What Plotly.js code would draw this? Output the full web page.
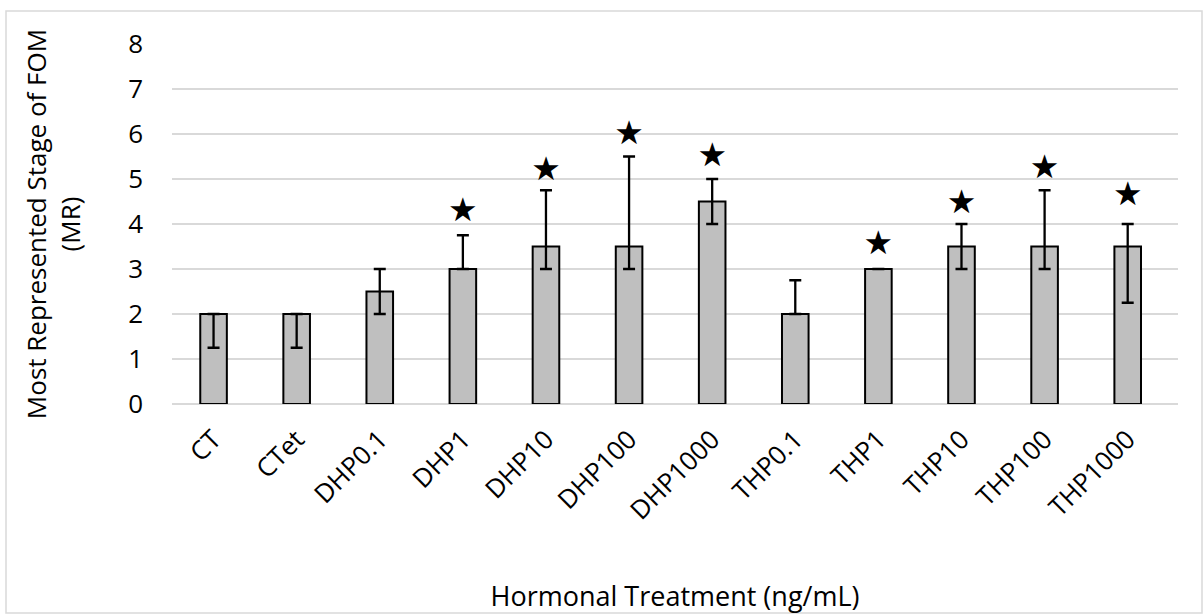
<!DOCTYPE html>
<html>
<head>
<meta charset="utf-8">
<script src="https://cdn.plot.ly/plotly-3.0.1.min.js"></script>
<style>
html,body{margin:0;padding:0;background:#fff;}
#chart{width:1203px;height:614px;}
</style>
</head>
<body>
<div id="chart"></div>
<script>
// Data
const categories = ["CT","CTet","DHP0.1","DHP1","DHP10","DHP100","DHP1000","THP0.1","THP1","THP10","THP100","THP1000"];
const mrValues   = [2, 2, 2.5, 3, 3.5, 3.5, 4.5, 2, 3, 3.5, 3.5, 3.5];
const errPlus    = [0, 0, 0.5, 0.75, 1.25, 2, 0.5, 0.75, 0, 0.5, 1.25, 0.5];
const errMinus   = [0.75, 0.75, 0.5, 0, 0.5, 0.5, 0.5, 0, 0, 0.5, 0.5, 1.25];
// significance stars (category, y position)
const starCats   = ["DHP1","DHP10","DHP100","DHP1000","THP1","THP10","THP100","THP1000"];
const starY      = [4.26, 5.17, 5.96, 5.48, 3.52, 4.42, 5.21, 4.61];
const yTickVals  = [0,1,2,3,4,5,6,7,8];

const FONT = "Open Sans, sans-serif";
const FS = 26;

const bars = {
  type: "bar",
  x: categories,
  y: mrValues,
  marker: {color: "#bfbfbf", line: {color: "#000000", width: 2}},
  error_y: {
    type: "data", symmetric: false,
    array: errPlus, arrayminus: errMinus,
    color: "#000000", thickness: 2.3, width: 6
  },
  hoverinfo: "x+y",
  showlegend: false
};

const stars = {
  type: "scatter",
  mode: "text",
  x: starCats,
  y: starY,
  text: starCats.map(() => "★"),
  textposition: "middle center",
  textfont: {family: "DejaVu Sans", size: 33, color: "#000000"},
  hoverinfo: "skip",
  showlegend: false
};

// plot area in pixels
const L = 172, R = 25, T = 44, B = 210, W = 1203, H = 614;
const pw = W - L - R, ph = H - T - B;
const px = v => (v - L) / pw;
const py = v => 1 - (v - T) / ph;

const layout = {
  width: W, height: H,
  margin: {l: L, r: R, t: T, b: B, pad: 0},
  paper_bgcolor: "#ffffff",
  plot_bgcolor: "#ffffff",
  bargap: 0.68,
  font: {family: FONT, color: "#000000", size: FS},
  xaxis: {
    type: "category",
    tickangle: -45,
    tickfont: {family: FONT, size: FS, color: "#000000"},
    ticklabelstandoff: 14,
    showgrid: false,
    showline: false,
    ticks: "",
    title: {text: "Hormonal Treatment (ng/mL)", font: {family: FONT, size: 27, color: "#000000"}, standoff: 61},
    automargin: false
  },
  yaxis: {
    range: [0, 8],
    tickvals: yTickVals,
    ticktext: yTickVals.map(String),
    tickfont: {family: FONT, size: FS, color: "#000000"},
    ticklabelstandoff: 28,
    showgrid: true,
    gridcolor: "#d9d9d9",
    gridwidth: 1.5,
    zeroline: true,
    zerolinecolor: "#d9d9d9",
    zerolinewidth: 1.5,
    showline: false,
    ticks: "",
    ticklen: 0,
    title: {text: "Most Represented Stage of FOM<br>(MR)", font: {family: FONT, size: FS, color: "#000000"}, standoff: 40},
    automargin: false
  },
  shapes: [{
    type: "rect", xref: "paper", yref: "paper", layer: "below",
    x0: px(6), x1: px(1202), y0: py(11), y1: py(613),
    line: {color: "#d9d9d9", width: 1.5}, fillcolor: "rgba(0,0,0,0)"
  }]
};

Plotly.newPlot("chart", [bars, stars], layout, {displayModeBar: false, staticPlot: true});
</script>
</body>
</html>
